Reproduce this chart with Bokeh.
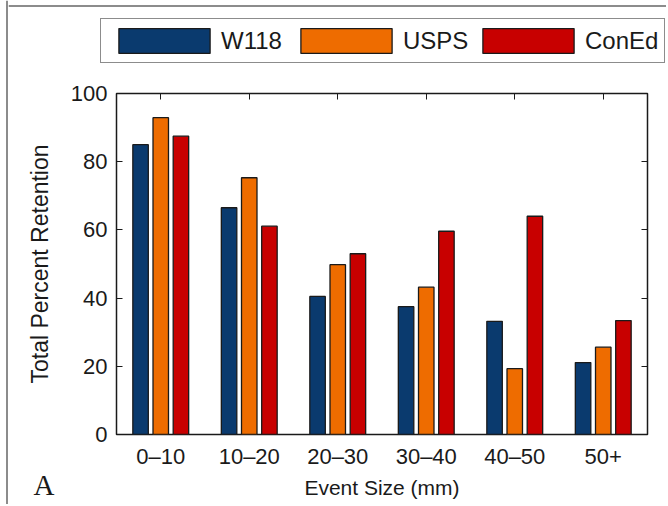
from bokeh.plotting import figure
from bokeh.layouts import column, row
from bokeh.models import (FactorRange, Range1d, LinearAxis, CategoricalAxis, Legend,
                          LegendItem, Label, ColumnDataSource, FixedTicker, Span)
from bokeh.transform import dodge
from bokeh.embed import file_html
from bokeh.resources import INLINE

categories = ["0–10", "10–20", "20–30", "30–40", "40–50", "50+"]
w118 = [85.0, 66.5, 40.5, 37.5, 33.2, 21.1]
usps = [92.9, 75.3, 49.8, 43.2, 19.3, 25.6]
coned = [87.5, 61.1, 53.0, 59.6, 64.0, 33.4]
series_names = ["W118", "USPS", "ConEd"]
y_ticks = [0, 20, 40, 60, 80, 100]

colors = ["#0A3A6E", "#EE6C00", "#C80000"]
FONT = "Liberation Sans"
INK = "#1a1a1a"
EDGE = "#8c8c8c"
W = 658          # width of the chart column
H_LEG, H_MAIN, H_BOT = 75, 399, 30

src = ColumnDataSource(dict(cat=categories, W118=w118, USPS=usps, ConEd=coned))
offsets = [-0.228, 0.0, 0.228]


def bare(fig):
    fig.grid.visible = False
    fig.outline_line_color = None
    fig.background_fill_color = "white"
    fig.border_fill_color = "white"


def strip(width, height, x_range, y_range):
    f = figure(width=width, height=height, x_range=x_range, y_range=y_range,
               output_backend="svg", toolbar_location=None,
               x_axis_location=None, y_axis_location=None, frame_align=False,
               min_border=0, min_border_left=0, min_border_right=0,
               min_border_top=0, min_border_bottom=0)
    bare(f)
    return f


# ---------- thin left edge (frame of the original picture) ----------
edge_fig = strip(8, H_LEG + H_MAIN + H_BOT, Range1d(0, 8), Range1d(0, 1))
edge_fig.add_layout(Span(location=6.5, dimension="height", line_color=EDGE, line_width=2))

# ---------- legend strip (top) ----------
# series renderers on a numeric range (categories do not map there): only swatches show
leg_fig = strip(W, H_LEG, Range1d(0, 1), Range1d(0, H_LEG))
leg_fig.add_layout(Span(location=H_LEG - 5.5, dimension="width", line_color=EDGE, line_width=2))
leg_renderers = []
for name, col in zip(series_names, colors):
    r = leg_fig.vbar(x="cat", top=name, width=0.175, source=src,
                     fill_color=col, line_color=INK, line_width=1.3)
    leg_renderers.append(r)
legend = Legend(items=[LegendItem(label=n, renderers=[r])
                       for n, r in zip(series_names, leg_renderers)],
                orientation="horizontal", location=(92, 12),
                glyph_width=114, glyph_height=31, label_width=68, label_standoff=-8,
                spacing=0, padding=6, margin=0,
                label_text_font=FONT, label_text_font_size="24px", label_text_color=INK,
                border_line_color=INK, border_line_width=1.5,
                background_fill_color="white", background_fill_alpha=1.0)
leg_fig.add_layout(legend, "center")

# ---------- main chart ----------
p = figure(x_range=FactorRange(factors=categories, range_padding=0),
           y_range=Range1d(0, 100),
           width=W, height=H_MAIN, output_backend="svg", toolbar_location=None,
           min_border_left=108, min_border_right=W - 639, min_border_top=18,
           min_border_bottom=40, x_axis_location=None, y_axis_location=None,
           frame_align=False)
bare(p)
p.outline_line_color = INK
p.outline_line_width = 1.5

for name, off, col in zip(series_names, offsets, colors):
    p.vbar(x=dodge("cat", off, range=p.x_range), top=name, width=0.175,
           source=src, fill_color=col, line_color=INK, line_width=1.3)

left = LinearAxis(ticker=FixedTicker(ticks=y_ticks), axis_label="Total Percent Retention")
left.axis_line_color = None
left.major_tick_in = 6
left.major_tick_out = 0
left.minor_tick_line_color = None
left.major_tick_line_color = INK
left.major_label_text_font = FONT
left.major_label_text_font_size = "22px"
left.major_label_text_color = INK
left.major_label_standoff = 9
left.axis_label_text_font = FONT
left.axis_label_text_font_size = "23px"
left.axis_label_text_font_style = "normal"
left.axis_label_text_color = INK
left.axis_label_standoff = 15
p.add_layout(left, "left")

right = LinearAxis(ticker=FixedTicker(ticks=y_ticks))
right.axis_line_color = None
right.major_tick_in = 6
right.major_tick_out = 0
right.minor_tick_line_color = None
right.major_tick_line_color = INK
right.major_label_text_alpha = 0
right.major_label_text_font_size = "1px"
right.major_label_standoff = 0
p.add_layout(right, "right")

bottom = CategoricalAxis()
bottom.axis_line_color = None
bottom.major_tick_line_color = None
bottom.major_label_text_font = FONT
bottom.major_label_text_font_size = "22px"
bottom.major_label_text_color = INK
bottom.major_label_standoff = 3
p.add_layout(bottom, "below")

top = CategoricalAxis()
top.axis_line_color = None
top.major_tick_in = 6
top.major_tick_out = 0
top.major_tick_line_color = INK
top.major_label_text_alpha = 0
top.major_label_text_font_size = "1px"
top.major_label_standoff = 0
p.add_layout(top, "above")

# ---------- bottom strip: x-axis title and panel letter ----------
bot_fig = strip(W, H_BOT, Range1d(0, 1), Range1d(0, 1))
bot_fig.add_layout(Label(x=373.5, y=17, x_units="screen", y_units="screen",
                         text="Event Size (mm)", text_font=FONT, text_font_size="21px",
                         text_color=INK, text_align="center", text_baseline="alphabetic"))
bot_fig.add_layout(Label(x=25, y=20, x_units="screen", y_units="screen", text="A",
                         text_font="Liberation Serif", text_font_size="29px",
                         text_color=INK, text_baseline="alphabetic"))

layout = row(edge_fig, column(leg_fig, p, bot_fig, spacing=0), spacing=0)

open("out.html", "w").write(file_html(layout, INLINE))
